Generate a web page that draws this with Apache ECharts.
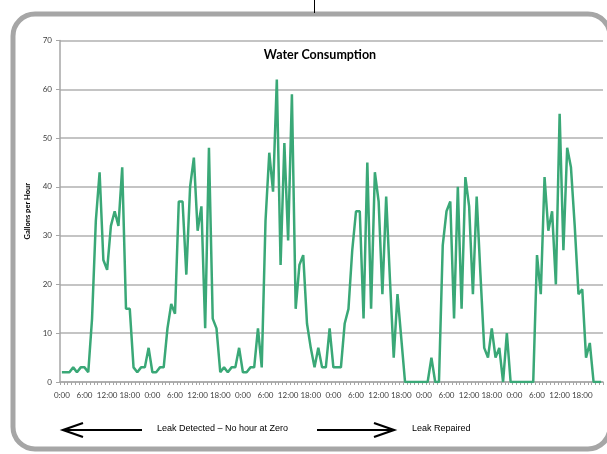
<!DOCTYPE html>
<html>
<head>
<meta charset="utf-8">
<script src="https://cdn.jsdelivr.net/npm/echarts@6/dist/echarts.min.js"></script>
<style>
  html, body { margin: 0; padding: 0; background: #fff; }
  #Chart { width: 607px; height: 454px; }
</style>
</head>
<body>
<div id="Chart"></div>
<script>
// hourly readings, 6 days
const day1 = [2, 2, 2, 3, 2, 3, 3, 2, 13, 33, 43, 25, 23, 32, 35, 32, 44, 15, 15, 3, 2, 3, 3, 7]
const day2 = [2, 2, 3, 3, 11, 16, 14, 37, 37, 22, 40, 46, 31, 36, 11, 48, 13, 11, 2, 3, 2, 3, 3, 7]
const day3 = [2, 2, 3, 3, 11, 3, 33, 47, 39, 62, 24, 49, 29, 59, 15, 24, 26, 12, 7, 3, 7, 3, 3, 11]
const day4 = [3, 3, 3, 12, 15, 27, 35, 35, 13, 45, 15, 43, 37, 18, 38, 21, 5, 18, 9, 0, 0, 0, 0, 0]
const day5 = [0, 0, 5, 0, 0, 28, 35, 37, 13, 40, 15, 42, 36, 18, 38, 22, 7, 5, 11, 5, 7, 0, 10, 0]
const day6 = [0, 0, 0, 0, 0, 0, 26, 18, 42, 31, 35, 20, 55, 27, 48, 44, 32, 18, 19, 5, 8, 0, 0, 0]
const consumption = [...day1, ...day2, ...day3, ...day4, ...day5, ...day6]

const hourLabels = []
for (let d = 0; d < 6; d++) {
  for (let h = 0; h < 24; h++) hourLabels.push(h + ":00")
}
const yTicks = [0, 10, 20, 30, 40, 50, 60, 70]

const chart = echarts.init(document.getElementById("Chart"), null, { renderer: "canvas" })

const gray = "#a6a6a6"
const arrowStyle = { stroke: "#000", lineWidth: 2.2, fill: null }

let option = {
  animation: false,
  textStyle: { fontFamily: "Lato, \"Open Sans\", sans-serif" },
  title: {
    text: "Water Consumption",
    left: 315,
    top: 43,
    textAlign: "center",
    textStyle: { fontSize: 12.5, fontWeight: "bold", color: "#000", fontFamily: "Lato" }
  },
  grid: { left: 60, right: 4, top: 40.5, bottom: 72 },
  xAxis: {
    type: "category",
    data: hourLabels,
    boundaryGap: true,
    axisLine: { lineStyle: { color: gray, width: 1.5 } },
    axisTick: { show: true, interval: 0, length: 3, lineStyle: { color: gray } },
    axisLabel: { interval: 5, fontSize: 8, color: "#404040", margin: 9 }
  },
  yAxis: {
    type: "value",
    min: yTicks[0],
    max: yTicks[yTicks.length - 1],
    interval: 10,
    name: "Gallons per Hour",
    nameLocation: "middle",
    nameGap: 27,
    nameTextStyle: { fontSize: 7.5, fontWeight: "bold", color: "#000" },
    axisLine: { show: true, lineStyle: { color: gray, width: 1.5 } },
    axisTick: { show: true, length: 4, lineStyle: { color: gray } },
    axisLabel: { fontSize: 8, color: "#404040", margin: 8 },
    splitLine: { lineStyle: { color: "#b0b0b0", width: 1.5 } }
  },
  series: [
    {
      name: "Water Consumption",
      type: "line",
      data: consumption,
      showSymbol: false,
      lineStyle: { color: "#3aa877", width: 2.5 },
      itemStyle: { color: "#3aa877" }
    }
  ],
  graphic: [
    // frame
    { type: "rect", shape: { x: 13, y: 14, width: 597, height: 435, r: 22 }, style: { stroke: gray, lineWidth: 5, fill: null }, silent: true },
    { type: "line", shape: { x1: 314.5, y1: 0, x2: 314.5, y2: 13 }, style: { stroke: "#000", lineWidth: 1 } },
    // left arrow
    { type: "line", shape: { x1: 63, y1: 430, x2: 142, y2: 430 }, style: arrowStyle },
    { type: "polyline", shape: { points: [[83, 423], [63, 430], [83, 437]] }, style: arrowStyle },
    { type: "text", left: 157, top: 424, style: { text: "Leak Detected \u2013 No hour at Zero", fontSize: 9, fontFamily: "Liberation Sans", fill: "#000" } },
    // right arrow
    { type: "line", shape: { x1: 317, y1: 430, x2: 394, y2: 430 }, style: arrowStyle },
    { type: "polyline", shape: { points: [[374, 423], [394, 430], [374, 437]] }, style: arrowStyle },
    { type: "text", left: 412, top: 424, style: { text: "Leak Repaired", fontSize: 9, fontFamily: "Liberation Sans", fill: "#000" } }
  ]
}
chart.setOption(option)
</script>
</body>
</html>
